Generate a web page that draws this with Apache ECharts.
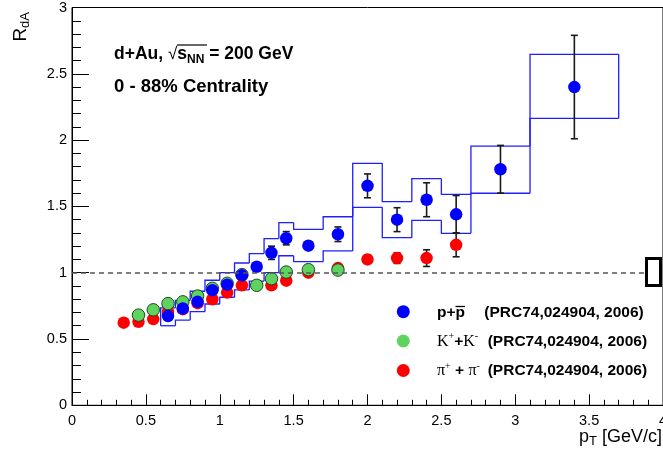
<!DOCTYPE html>
<html><head><meta charset="utf-8">
<script src="https://cdn.jsdelivr.net/npm/echarts@6/dist/echarts.min.js"></script>
<style>html,body{margin:0;padding:0;background:#fff}#c{width:663px;height:453px}</style>
</head><body><div id="c"></div>
<script>
// ---- data ----
const protonPt  = [0.65,0.75,0.85,0.95,1.05,1.15,1.25,1.35,1.45,1.6,1.8,2.0,2.2,2.4,2.6,2.9,3.4];
const protonR   = [0.673,0.73,0.78,0.868,0.91,0.98,1.045,1.15,1.26,1.204,1.29,1.655,1.40,1.55,1.44,1.78,2.40];
const protonErr = [0.02,0.02,0.02,0.02,0.02,0.02,0.03,0.05,0.05,0.03,0.055,0.09,0.09,0.128,0.142,0.18,0.39];
const sysEdges  = [0.6,0.7,0.8,0.9,1.0,1.1,1.2,1.3,1.4,1.5,1.7,1.9,2.1,2.3,2.5,2.7,3.1,3.7];
const sysHigh   = [0.734,0.792,0.86,0.943,1.0,1.073,1.144,1.257,1.378,1.326,1.422,1.825,1.536,1.709,1.591,1.955,2.647];
const sysLow    = [0.60,0.643,0.706,0.764,0.815,0.87,0.937,1.0,1.128,1.083,1.164,1.493,1.264,1.395,1.297,1.599,2.164];

const kaonPt  = [0.45,0.55,0.65,0.75,0.85,0.95,1.05,1.15,1.25,1.35,1.45,1.6,1.8];
const kaonR   = [0.68,0.72,0.767,0.78,0.824,0.882,0.92,0.985,0.905,0.955,1.005,1.023,1.02];
const kaonErr = [0.01,0.01,0.01,0.01,0.01,0.01,0.01,0.02,0.02,0.02,0.02,0.02,0.03];

const pionPt  = [0.35,0.45,0.55,0.65,0.75,0.85,0.95,1.05,1.15,1.35,1.45,1.6,1.8,2.0,2.2,2.4,2.6];
const pionR   = [0.623,0.63,0.65,0.704,0.725,0.77,0.80,0.85,0.905,0.905,0.94,1.0,1.035,1.10,1.11,1.11,1.21];
const pionErr = [0.01,0.01,0.01,0.01,0.01,0.01,0.01,0.01,0.01,0.01,0.02,0.02,0.02,0.03,0.04,0.063,0.09];

const refLevel = 1;
const xTicks = {min:0, max:4, interval:0.5};
const yTicks = {min:0, max:3, interval:0.5};

const FONT = 'Liberation Sans, Arial, Helvetica, sans-serif';
const SERIF = 'Liberation Serif, Times New Roman, serif';

function zip(a,b,c){ return a.map((v,i)=> c ? [v,b[i],c[i]] : [v,b[i]]); }

function errorSeries(pt, r, err){
  return {
    type:'custom', data: zip(pt,r,err), silent:true, z:2,
    encode:{x:0,y:1},
    renderItem(params, api){
      const x=api.value(0), y=api.value(1), e=api.value(2);
      const t=api.coord([x,y+e]), b=api.coord([x,y-e]);
      const cap=3.5, st={stroke:'#1a1a1a', lineWidth:1.6};
      return {type:'group', children:[
        {type:'line', shape:{x1:t[0],y1:t[1],x2:b[0],y2:b[1]}, style:st},
        {type:'line', shape:{x1:t[0]-cap,y1:t[1],x2:t[0]+cap,y2:t[1]}, style:st},
        {type:'line', shape:{x1:b[0]-cap,y1:b[1],x2:b[0]+cap,y2:b[1]}, style:st}
      ]};
    }
  };
}

const chart = echarts.init(document.getElementById('c'), null, {renderer:'canvas'});
chart.setOption({
  animation:false,
  backgroundColor:'#fff',
  grid:{left:72, right:0, top:7.5, bottom:47.7, show:true, borderColor:'#000', borderWidth:1,
        containLabel:false, outerBoundsMode:'none'},
  xAxis:{
    type:'value', min:xTicks.min, max:xTicks.max, interval:xTicks.interval,
    axisLine:{show:true, onZero:false, lineStyle:{color:'#000', width:1}},
    axisTick:{show:true, inside:true, length:11, lineStyle:{color:'#000', width:1}},
    minorTick:{show:true, splitNumber:5, length:5.5, lineStyle:{color:'#000', width:1}},
    splitLine:{show:false},
    axisLabel:{color:'#000', fontFamily:FONT, fontSize:14.5, margin:8, showMaxLabel:true, hideOverlap:false}
  },
  yAxis:{
    type:'value', min:yTicks.min, max:yTicks.max, interval:yTicks.interval,
    axisLine:{show:true, onZero:false, lineStyle:{color:'#000', width:1}},
    axisTick:{show:true, inside:true, length:17, lineStyle:{color:'#000', width:1}},
    minorTick:{show:true, splitNumber:5, length:9, lineStyle:{color:'#000', width:1}},
    splitLine:{show:false},
    axisLabel:{color:'#000', fontFamily:FONT, fontSize:14.5, margin:5}
  },
  series:[
    {
      type:'line', data:[], silent:true,
      markLine:{silent:true, symbol:'none', label:{show:false},
        lineStyle:{color:'#555', type:[5,4], width:1.6},
        data:[{yAxis:refLevel}]}
    },
    {
      type:'custom', silent:true, z:1,
      data: sysHigh.map((h,i)=>[sysEdges[i], sysEdges[i+1], sysLow[i], h]),
      encode:{x:[0,1], y:[2,3]},
      renderItem(params, api){
        const i=params.dataIndex, n=sysHigh.length;
        const x0=api.value(0), x1=api.value(1), lo=api.value(2), hi=api.value(3);
        const prevHi = i>0 ? sysHigh[i-1] : lo;
        const prevLo = i>0 ? sysLow[i-1] : lo;
        const st={stroke:'#1f1fff', lineWidth:1.3, fill:null};
        const up=[api.coord([x0,prevHi]), api.coord([x0,hi]), api.coord([x1,hi])];
        const dn=[api.coord([x0,prevLo]), api.coord([x0,lo]), api.coord([x1,lo])];
        const ch=[
          {type:'polyline', shape:{points:up}, style:st},
          {type:'polyline', shape:{points:dn}, style:st}
        ];
        if(i===n-1){
          ch.push({type:'polyline', shape:{points:[api.coord([x1,hi]), api.coord([x1,lo])]}, style:st});
        }
        return {type:'group', children:ch};
      }
    },
    errorSeries(pionPt, pionR, pionErr),
    {type:'scatter', data:zip(pionPt,pionR), symbol:'circle', symbolSize:12.5, z:3,
      itemStyle:{color:'#ff0000', opacity:1}},
    errorSeries(kaonPt, kaonR, kaonErr),
    {type:'scatter', data:zip(kaonPt,kaonR), symbol:'circle', symbolSize:12.5, z:3,
      itemStyle:{color:'#5fd35f', borderColor:'#1e4a1e', borderWidth:1, opacity:1}},
    errorSeries(protonPt, protonR, protonErr),
    {type:'scatter', data:zip(protonPt,protonR), symbol:'circle', symbolSize:12.5, z:3,
      itemStyle:{color:'#0000ff', opacity:1}}
  ],
  graphic:[
    // y axis title
    {type:'text', x:21, y:12, rotation:Math.PI/2, z:10,
      style:{text:'{r|R}{s|dA}', align:'right', verticalAlign:'middle',
        rich:{r:{fontFamily:FONT, fontSize:19, fill:'#000', lineHeight:22},
              s:{fontFamily:FONT, fontSize:13, fill:'#000', lineHeight:12, verticalAlign:'bottom'}}}},
    // x axis title
    {type:'text', x:662, y:437, z:10,
      style:{text:'{r|p}{s|T}{r| [GeV/c]}', align:'right', verticalAlign:'middle',
        rich:{r:{fontFamily:FONT, fontSize:18, fill:'#000', lineHeight:22},
              s:{fontFamily:FONT, fontSize:13, fill:'#000', lineHeight:12, verticalAlign:'bottom'}}}},
    // header
    {type:'text', x:114, y:54, z:10,
      style:{text:'{b|d+Au, }{r|√}{b|s}{s|NN}{b| = 200 GeV}', align:'left', verticalAlign:'middle',
        rich:{b:{fontFamily:FONT, fontWeight:'bold', fontSize:17.5, fill:'#000', lineHeight:24},
              r:{fontFamily:FONT, fontSize:17, fill:'#000', lineHeight:24},
              s:{fontFamily:FONT, fontWeight:'bold', fontSize:12, fill:'#000', lineHeight:14, verticalAlign:'bottom'}}}},
    {type:'line', shape:{x1:177, y1:45, x2:207, y2:45}, z:10, style:{stroke:'#000', lineWidth:1.2}},
    {type:'text', x:114, y:87, z:10,
      style:{text:'0 - 88% Centrality', align:'left', verticalAlign:'middle',
        font:'bold 18.5px ' + FONT, fill:'#000'}},
    // legend box at right edge
    {type:'rect', shape:{x:646.5, y:258.5, width:14, height:27}, z:10,
      style:{fill:'#fff', stroke:'#000', lineWidth:3}},
    // legend markers
    {type:'circle', shape:{cx:403.3, cy:311.7, r:6.5}, z:10, style:{fill:'#0000ff'}},
    {type:'circle', shape:{cx:403.3, cy:341, r:6.5}, z:10, style:{fill:'#5fd35f'}},
    {type:'circle', shape:{cx:403.3, cy:370.5, r:6.5}, z:10, style:{fill:'#ff0000'}},
    // legend texts
    {type:'text', x:437, y:312.5, z:10,
      style:{text:'p+p', align:'left', verticalAlign:'middle', font:'bold 15.5px ' + FONT, fill:'#000'}},
    {type:'line', shape:{x1:455.5, y1:306.5, x2:465, y2:306.5}, z:10, style:{stroke:'#000', lineWidth:1.3}},
    {type:'text', x:484.3, y:312.5, z:10,
      style:{text:'(PRC74,024904, 2006)', align:'left', verticalAlign:'middle', font:'bold 15.5px ' + FONT, fill:'#000'}},
    {type:'text', x:437, y:341.5, z:10,
      style:{text:'{k|K}{p|+}{b|+}{k|K}{p|-}', align:'left', verticalAlign:'middle',
        rich:{k:{fontFamily:SERIF, fontSize:16, fill:'#000', lineHeight:20},
              b:{fontFamily:FONT, fontWeight:'bold', fontSize:15.5, fill:'#000', lineHeight:20},
              p:{fontFamily:SERIF, fontSize:10, fill:'#000', lineHeight:10, verticalAlign:'top'}}}},
    {type:'text', x:487.7, y:341.5, z:10,
      style:{text:'(PRC74,024904, 2006)', align:'left', verticalAlign:'middle', font:'bold 15.5px ' + FONT, fill:'#000'}},
    {type:'text', x:437, y:371, z:10,
      style:{text:'{k|π}{p|+}{b| + }{k|π}{p|-}', align:'left', verticalAlign:'middle',
        rich:{k:{fontFamily:SERIF, fontSize:16, fill:'#000', lineHeight:20},
              b:{fontFamily:FONT, fontWeight:'bold', fontSize:15.5, fill:'#000', lineHeight:20},
              p:{fontFamily:SERIF, fontSize:10, fill:'#000', lineHeight:10, verticalAlign:'top'}}}},
    {type:'text', x:487.7, y:371, z:10,
      style:{text:'(PRC74,024904, 2006)', align:'left', verticalAlign:'middle', font:'bold 15.5px ' + FONT, fill:'#000'}}
  ]
});
</script></body></html>
